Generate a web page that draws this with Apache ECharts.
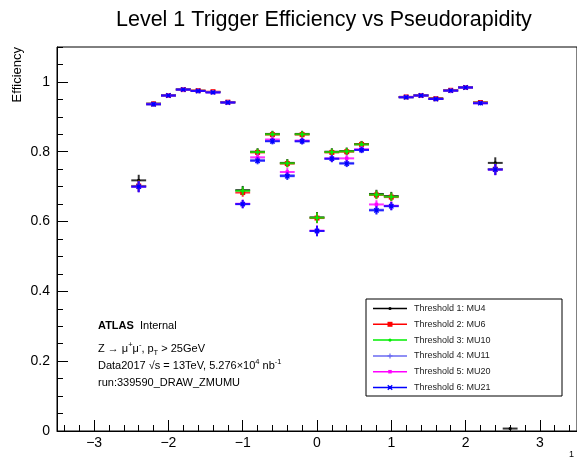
<!DOCTYPE html>
<html><head><meta charset="utf-8">
<script src="https://cdn.jsdelivr.net/npm/echarts@6/dist/echarts.min.js"></script>
<style>html,body{margin:0;padding:0;background:#fff}#c{width:577px;height:464px}</style>
</head><body><div id="c"></div>
<script>
// ---- data ----
const eta = [-2.4,-2.2,-2.0,-1.8,-1.6,-1.4,-1.2,-1.0,-0.8,-0.6,-0.4,-0.2,0.0,0.2,0.4,0.6,0.8,1.0,1.2,1.4,1.6,1.8,2.0,2.2,2.4];
const etaMU4 = [-2.4,-2.2,-2.0,-1.8,-1.6,-1.4,-1.2,-1.0,-0.8,-0.6,-0.4,-0.2,0.0,0.2,0.4,0.6,0.8,1.0,1.2,1.4,1.6,1.8,2.0,2.2,2.4,2.6];
const mu4  = [0.718,0.938,0.962,0.979,0.975,0.971,0.942,0.690,0.800,0.851,0.768,0.851,0.612,0.800,0.802,0.822,0.679,0.673,0.957,0.962,0.953,0.976,0.985,0.941,0.768,0.007];
const mu6  = [0.702,0.937,0.961,0.978,0.975,0.972,0.942,0.683,0.798,0.849,0.766,0.849,0.610,0.798,0.800,0.821,0.676,0.670,0.957,0.961,0.952,0.976,0.984,0.941,0.750];
const mu10 = [0.701,0.936,0.961,0.978,0.974,0.971,0.941,0.688,0.799,0.850,0.767,0.850,0.611,0.799,0.801,0.821,0.677,0.671,0.956,0.961,0.951,0.975,0.984,0.940,0.750];
const mu11 = [0.700,0.936,0.961,0.978,0.974,0.970,0.941,0.650,0.777,0.831,0.733,0.830,0.573,0.780,0.768,0.806,0.634,0.645,0.956,0.961,0.951,0.975,0.984,0.939,0.749];
const mu20 = [0.700,0.936,0.961,0.978,0.974,0.970,0.941,0.651,0.784,0.835,0.742,0.832,0.574,0.781,0.781,0.807,0.649,0.645,0.956,0.961,0.951,0.975,0.984,0.939,0.749];
const mu21 = [0.700,0.936,0.961,0.978,0.974,0.970,0.941,0.650,0.774,0.830,0.730,0.830,0.573,0.780,0.766,0.805,0.632,0.644,0.956,0.961,0.951,0.975,0.984,0.939,0.749];
const errs = [0.016,0.006,0.004,0.003,0.003,0.004,0.005,0.012,0.010,0.009,0.011,0.009,0.015,0.010,0.010,0.009,0.012,0.012,0.004,0.004,0.004,0.003,0.003,0.005,0.016,0.003];
const binHalfWidth = 0.1;
const seriesNames = ['Threshold 1: MU4','Threshold 2: MU6','Threshold 3: MU10','Threshold 4: MU11','Threshold 5: MU20','Threshold 6: MU21'];
const xMajorTicks = [-3,-2,-1,0,1,2,3];
const yMajorTicks = [0,0.2,0.4,0.6,0.8,1];
const titleText = 'Level 1 Trigger Efficiency vs Pseudorapidity';
const yTitle = 'Efficiency';

// ---- styles ----
const styles = [
  {color:'#000000', marker:'circle', size:1.6},
  {color:'#ff0000', marker:'square', size:5},
  {color:'#00ee00', marker:'circle', size:1.6},
  {color:'#6a6af2', marker:'plus', size:2.5},
  {color:'#ff00ff', marker:'square', size:3.5},
  {color:'#0000ff', marker:'cross', size:2.2}
];
const values = [mu4, mu6, mu10, mu11, mu20, mu21];
const xs = [etaMU4, eta, eta, eta, eta, eta];

function markerShapes(st, cx, cy){
  const s = st.size, c = st.color;
  if (st.marker === 'circle') return [{type:'circle', shape:{cx, cy, r:s}, style:{fill:c}}];
  if (st.marker === 'square') return [{type:'rect', shape:{x:cx-s/2, y:cy-s/2, width:s, height:s}, style:{fill:c}}];
  if (st.marker === 'plus') return [
    {type:'line', shape:{x1:cx-s, y1:cy, x2:cx+s, y2:cy}, style:{stroke:c, lineWidth:1.2}},
    {type:'line', shape:{x1:cx, y1:cy-s, x2:cx, y2:cy+s}, style:{stroke:c, lineWidth:1.2}}];
  return [
    {type:'line', shape:{x1:cx-s, y1:cy-s, x2:cx+s, y2:cy+s}, style:{stroke:c, lineWidth:1.3}},
    {type:'line', shape:{x1:cx-s, y1:cy+s, x2:cx+s, y2:cy-s}, style:{stroke:c, lineWidth:1.3}},
    {type:'rect', shape:{x:cx-1.5, y:cy-1.5, width:3, height:3}, style:{fill:c}}];
}

function makeRender(st){
  return function(params, api){
    const x = api.value(0), y = api.value(1), e = api.value(2);
    const c = api.coord([x, y]);
    const l = api.coord([x - binHalfWidth, y]);
    const r = api.coord([x + binHalfWidth, y]);
    const t = api.coord([x, y + e]);
    const b = api.coord([x, y - e]);
    const children = [
      {type:'line', shape:{x1:l[0], y1:c[1], x2:r[0], y2:c[1]}, style:{stroke:st.color, lineWidth:2, opacity:0.8}},
      {type:'line', shape:{x1:c[0], y1:t[1], x2:c[0], y2:b[1]}, style:{stroke:st.color, lineWidth:2, opacity:0.8}}
    ].concat(markerShapes(st, c[0], c[1]));
    return {type:'group', children};
  };
}

const series = values.map((v, i) => ({
  type:'custom', name: seriesNames[i], xAxisIndex:0, yAxisIndex:0, clip:true,
  data: v.map((y, j) => [xs[i][j], y, errs[j]]),
  renderItem: makeRender(styles[i]), z: 10 + i
}));

const xMinor = []; for (let k = -17; k <= 17; k++) xMinor.push(+(k*0.2).toFixed(1));
const yMinor = []; for (let k = 0; k <= 22; k++) yMinor.push(+(k*0.05).toFixed(2));

const font = "'Liberation Sans', Arial, Helvetica, sans-serif";
const fmtX = v => (v < 0 ? '\u2212' + Math.abs(v) : String(v));

// legend (manual, ROOT style)
const legendX = 366, legendY = 299, legendW = 196, legendH = 97;
const legendEls = [{type:'rect', shape:{x:legendX, y:legendY, width:legendW, height:legendH}, style:{fill:'#fff', stroke:'#000', lineWidth:1}, z:50}];
seriesNames.forEach((n, i) => {
  const cy = legendY + 9.5 + i * 15.8;
  const st = styles[i];
  legendEls.push({type:'line', shape:{x1:legendX+7, y1:cy, x2:legendX+41, y2:cy}, style:{stroke:st.color, lineWidth:1.5}, z:51});
  markerShapes(st, legendX+24, cy).forEach(m => { m.z = 52; legendEls.push(m); });
  legendEls.push({type:'text', style:{x:legendX+48, y:cy, text:n, font:'9px ' + font, fill:'#222', textVerticalAlign:'middle'}, z:52});
});

const annFont = 11;
const rich = {
  b:{fontWeight:'bold', fontSize:annFont, fontFamily:font, color:'#000', lineHeight:16},
  n:{fontSize:annFont, fontFamily:font, color:'#000', lineHeight:16},
  sup:{fontSize:7.5, fontFamily:font, color:'#000', verticalAlign:'top', lineHeight:16},
  sub:{fontSize:7.5, fontFamily:font, color:'#000', verticalAlign:'bottom', lineHeight:14}
};
function annText(x, y, text){
  return {type:'text', z:60, style:{x, y, text, rich, textVerticalAlign:'middle', font: annFont + 'px ' + font}};
}

const chart = echarts.init(document.getElementById('c'));
chart.setOption({
  animation:false,
  backgroundColor:'#fff',
  title:{text:titleText, left:111, top:4, textStyle:{fontFamily:font, fontWeight:'normal', fontSize:21.5, color:'#000'}},
  grid:{left:57, right:-6, top:47, bottom:33, show:true, borderColor:'#000', borderWidth:1, backgroundColor:'transparent'},
  xAxis:[
    {type:'value', min:-3.5, max:3.5, position:'bottom',
     axisLine:{show:true, onZero:false, lineStyle:{color:'#000', width:1}},
     axisTick:{show:true, inside:true, length:11, customValues:xMajorTicks, lineStyle:{color:'#000'}},
     axisLabel:{show:true, customValues:xMajorTicks, formatter:fmtX, margin:5, fontSize:14, fontFamily:font, color:'#000'},
     splitLine:{show:false}},
    {type:'value', min:-3.5, max:3.5, position:'bottom', offset:0,
     axisLine:{show:false, onZero:false},
     axisTick:{show:true, inside:true, length:6, customValues:xMinor, lineStyle:{color:'#000'}},
     axisLabel:{show:false}, splitLine:{show:false}}
  ],
  yAxis:[
    {type:'value', min:0, max:1.1, position:'left',
     axisLine:{show:true, onZero:false, lineStyle:{color:'#000', width:1}},
     axisTick:{show:true, inside:true, length:11, customValues:yMajorTicks, lineStyle:{color:'#000'}},
     axisLabel:{show:true, customValues:yMajorTicks, formatter:v => String(v), margin:7, fontSize:14, fontFamily:font, color:'#000'},
     splitLine:{show:false}},
    {type:'value', min:0, max:1.1, position:'left', offset:0,
     axisLine:{show:false, onZero:false},
     axisTick:{show:true, inside:true, length:6, customValues:yMinor, lineStyle:{color:'#000'}},
     axisLabel:{show:false}, splitLine:{show:false}}
  ],
  series,
  graphic: [
    {type:'text', z:60, rotation:Math.PI/2, x:17, y:47, style:{x:0, y:0, text:yTitle, font:'13px ' + font, fill:'#000', textAlign:'right', textVerticalAlign:'middle'}},
    annText(98, 326, '{b|ATLAS}{n|  Internal}'),
    annText(98, 349, '{n|Z \u2192 \u03bc}{sup|+}{n|\u03bc}{sup|-}{n|, p}{sub|T}{n| > 25GeV}'),
    annText(98, 366, '{n|Data2017 \u221as = 13TeV, 5.276\u00d710}{sup|4}{n| nb}{sup|-1}'),
    annText(98, 383, '{n|run:339590_DRAW_ZMUMU}'),
    {type:'text', z:60, style:{x:569, y:450, text:'1', font:'9px ' + font, fill:'#000'}}
  ].concat(legendEls)
});
</script>
</body></html>
